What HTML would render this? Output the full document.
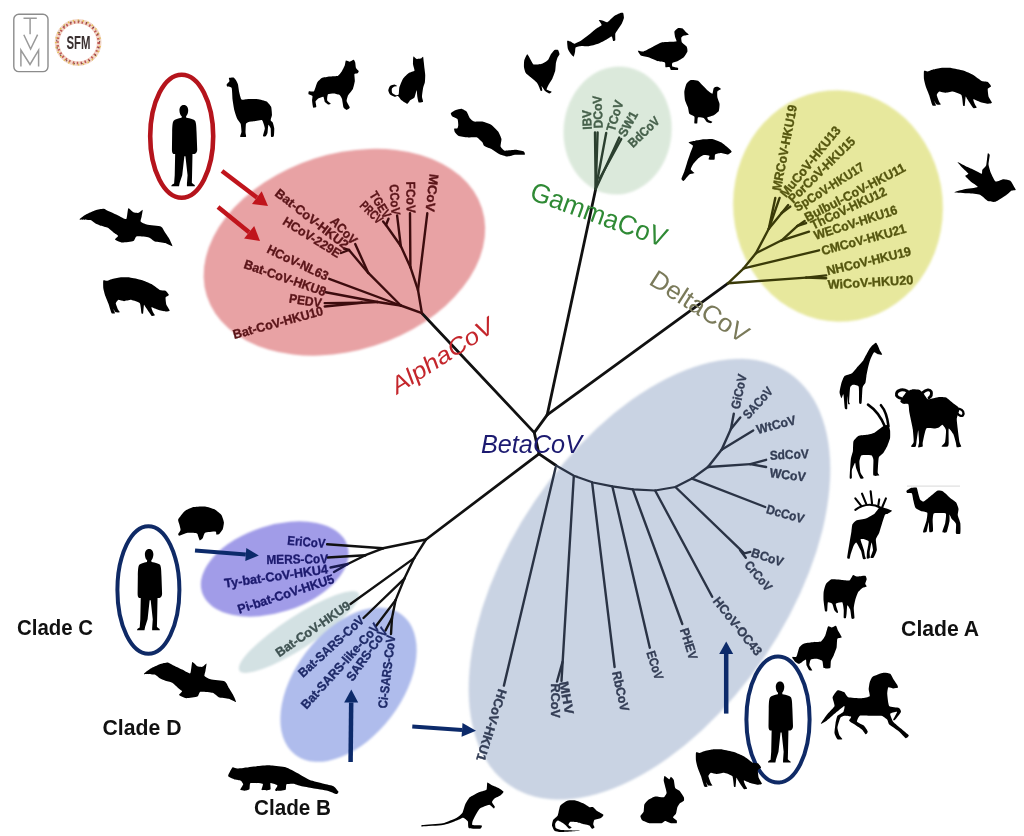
<!DOCTYPE html>
<html><head><meta charset="utf-8"><style>
html,body{margin:0;padding:0;background:#fff;width:1024px;height:836px;overflow:hidden}
svg{display:block}
text{font-family:"Liberation Sans",sans-serif}
</style></head><body>
<svg width="1024" height="836" viewBox="0 0 1024 836">
<defs><filter id="soft" x="-5%" y="-5%" width="110%" height="110%"><feGaussianBlur stdDeviation="1"/></filter></defs>
<rect width="1024" height="836" fill="#fff"/>
<g filter="url(#soft)">
<ellipse cx="344.4" cy="252.2" rx="144.4" ry="98.3" transform="rotate(-17.7 344.4 252.2)" fill="#e8a2a4"/>
<ellipse cx="617.6" cy="130.5" rx="54" ry="64" transform="rotate(5 617.6 130.5)" fill="#dbe9db"/>
<ellipse cx="838" cy="206" rx="104.8" ry="115.8" transform="rotate(-5 838 206)" fill="#e7e89d"/>
<ellipse cx="649.5" cy="579.2" rx="138.8" ry="249" transform="rotate(34.1 649.5 579.2)" fill="#c9d3e3"/>
<ellipse cx="274.7" cy="569" rx="76.4" ry="43.5" transform="rotate(-18 274.7 569)" fill="#a19ce8"/>
<ellipse cx="299" cy="632" rx="71" ry="16" transform="rotate(-33 299 632)" fill="#d3e1e3"/>
<ellipse cx="348.5" cy="684.7" rx="53.4" ry="88" transform="rotate(37.3 348.5 684.7)" fill="#afbcec"/>
</g>
<polyline points="421.9,313.2 534.3,432.6 539.0,453.8" fill="none" stroke="#111" stroke-width="2.8" stroke-linejoin="round" stroke-linecap="round"/>
<polyline points="534.3,432.6 547.2,414.9" fill="none" stroke="#111" stroke-width="2.8" stroke-linejoin="round" stroke-linecap="round"/>
<polyline points="547.2,414.9 595.7,189.0" fill="none" stroke="#111" stroke-width="2.8" stroke-linejoin="round" stroke-linecap="round"/>
<polyline points="547.2,414.9 727.9,283.3" fill="none" stroke="#111" stroke-width="2.8" stroke-linejoin="round" stroke-linecap="round"/>
<polyline points="539.0,453.8 426.0,539.5" fill="none" stroke="#111" stroke-width="2.8" stroke-linejoin="round" stroke-linecap="round"/>
<polyline points="421.9,313.2 418.0,290.0" fill="none" stroke="#3d0c0e" stroke-width="2.4" stroke-linejoin="round" stroke-linecap="round"/>
<polyline points="418.0,290.0 427.3,213.3" fill="none" stroke="#3d0c0e" stroke-width="2.4" stroke-linejoin="round" stroke-linecap="round"/>
<polyline points="418.0,290.0 410.4,267.2" fill="none" stroke="#3d0c0e" stroke-width="2.4" stroke-linejoin="round" stroke-linecap="round"/>
<polyline points="410.4,267.2 410.0,213.3" fill="none" stroke="#3d0c0e" stroke-width="2.4" stroke-linejoin="round" stroke-linecap="round"/>
<polyline points="410.4,267.2 400.8,246.0" fill="none" stroke="#3d0c0e" stroke-width="2.4" stroke-linejoin="round" stroke-linecap="round"/>
<polyline points="400.8,246.0 397.1,215.4" fill="none" stroke="#3d0c0e" stroke-width="2.4" stroke-linejoin="round" stroke-linecap="round"/>
<polyline points="400.8,246.0 386.0,225.0" fill="none" stroke="#3d0c0e" stroke-width="2.4" stroke-linejoin="round" stroke-linecap="round"/>
<polyline points="386.0,225.0 388.5,218.7" fill="none" stroke="#3d0c0e" stroke-width="2.4" stroke-linejoin="round" stroke-linecap="round"/>
<polyline points="386.0,225.0 383.1,221.4" fill="none" stroke="#3d0c0e" stroke-width="2.4" stroke-linejoin="round" stroke-linecap="round"/>
<polyline points="421.9,313.2 400.8,305.5" fill="none" stroke="#3d0c0e" stroke-width="2.4" stroke-linejoin="round" stroke-linecap="round"/>
<polyline points="400.8,305.5 368.3,272.9" fill="none" stroke="#3d0c0e" stroke-width="2.4" stroke-linejoin="round" stroke-linecap="round"/>
<polyline points="368.3,272.9 355.2,244.0" fill="none" stroke="#3d0c0e" stroke-width="2.4" stroke-linejoin="round" stroke-linecap="round"/>
<polyline points="368.3,272.9 349.0,250.0" fill="none" stroke="#3d0c0e" stroke-width="2.4" stroke-linejoin="round" stroke-linecap="round"/>
<polyline points="349.0,250.0 344.0,248.5" fill="none" stroke="#3d0c0e" stroke-width="2.4" stroke-linejoin="round" stroke-linecap="round"/>
<polyline points="349.0,250.0 341.0,253.0" fill="none" stroke="#3d0c0e" stroke-width="2.4" stroke-linejoin="round" stroke-linecap="round"/>
<polyline points="400.8,305.5 329.2,278.8" fill="none" stroke="#3d0c0e" stroke-width="2.4" stroke-linejoin="round" stroke-linecap="round"/>
<polyline points="400.8,305.5 377.4,302.0" fill="none" stroke="#3d0c0e" stroke-width="2.4" stroke-linejoin="round" stroke-linecap="round"/>
<polyline points="377.4,302.0 325.8,292.3" fill="none" stroke="#3d0c0e" stroke-width="2.4" stroke-linejoin="round" stroke-linecap="round"/>
<polyline points="377.4,302.0 361.7,302.7" fill="none" stroke="#3d0c0e" stroke-width="2.4" stroke-linejoin="round" stroke-linecap="round"/>
<polyline points="361.7,302.7 324.7,303.1" fill="none" stroke="#3d0c0e" stroke-width="2.4" stroke-linejoin="round" stroke-linecap="round"/>
<polyline points="361.7,302.7 324.7,306.5" fill="none" stroke="#3d0c0e" stroke-width="2.4" stroke-linejoin="round" stroke-linecap="round"/>
<polyline points="595.7,189.0 595.0,132.4" fill="none" stroke="#2b3f2f" stroke-width="2.4" stroke-linejoin="round" stroke-linecap="round"/>
<polyline points="595.7,189.0 597.6,132.4" fill="none" stroke="#2b3f2f" stroke-width="2.4" stroke-linejoin="round" stroke-linecap="round"/>
<polyline points="595.7,189.0 606.2,133.0" fill="none" stroke="#2b3f2f" stroke-width="2.4" stroke-linejoin="round" stroke-linecap="round"/>
<polyline points="595.7,189.0 619.3,137.6" fill="none" stroke="#2b3f2f" stroke-width="2.4" stroke-linejoin="round" stroke-linecap="round"/>
<polyline points="600.0,178.0 621.3,139.0" fill="none" stroke="#2b3f2f" stroke-width="2.4" stroke-linejoin="round" stroke-linecap="round"/>
<polyline points="727.9,283.3 806.1,277.6" fill="none" stroke="#3a3a08" stroke-width="2.4" stroke-linejoin="round" stroke-linecap="round"/>
<polyline points="806.1,277.6 826.2,275.4" fill="none" stroke="#3a3a08" stroke-width="2.4" stroke-linejoin="round" stroke-linecap="round"/>
<polyline points="806.1,277.6 826.2,278.3" fill="none" stroke="#3a3a08" stroke-width="2.4" stroke-linejoin="round" stroke-linecap="round"/>
<polyline points="727.9,283.3 743.7,268.3" fill="none" stroke="#3a3a08" stroke-width="2.4" stroke-linejoin="round" stroke-linecap="round"/>
<polyline points="743.7,268.3 819.0,250.3" fill="none" stroke="#3a3a08" stroke-width="2.4" stroke-linejoin="round" stroke-linecap="round"/>
<polyline points="743.7,268.3 755.9,253.2" fill="none" stroke="#3a3a08" stroke-width="2.4" stroke-linejoin="round" stroke-linecap="round"/>
<polyline points="755.9,253.2 781.7,240.3" fill="none" stroke="#3a3a08" stroke-width="2.4" stroke-linejoin="round" stroke-linecap="round"/>
<polyline points="781.7,240.3 809.0,231.7" fill="none" stroke="#3a3a08" stroke-width="2.4" stroke-linejoin="round" stroke-linecap="round"/>
<polyline points="781.7,240.3 797.5,225.9" fill="none" stroke="#3a3a08" stroke-width="2.4" stroke-linejoin="round" stroke-linecap="round"/>
<polyline points="797.5,225.9 804.7,220.9" fill="none" stroke="#3a3a08" stroke-width="2.4" stroke-linejoin="round" stroke-linecap="round"/>
<polyline points="797.5,225.9 806.1,223.1" fill="none" stroke="#3a3a08" stroke-width="2.4" stroke-linejoin="round" stroke-linecap="round"/>
<polyline points="755.9,253.2 768.8,228.8" fill="none" stroke="#3a3a08" stroke-width="2.4" stroke-linejoin="round" stroke-linecap="round"/>
<polyline points="768.8,228.8 775.3,197.9" fill="none" stroke="#3a3a08" stroke-width="2.4" stroke-linejoin="round" stroke-linecap="round"/>
<polyline points="768.8,228.8 779.6,197.9" fill="none" stroke="#3a3a08" stroke-width="2.4" stroke-linejoin="round" stroke-linecap="round"/>
<polyline points="768.8,228.8 781.7,213.0" fill="none" stroke="#3a3a08" stroke-width="2.4" stroke-linejoin="round" stroke-linecap="round"/>
<polyline points="781.7,213.0 788.2,205.1" fill="none" stroke="#3a3a08" stroke-width="2.4" stroke-linejoin="round" stroke-linecap="round"/>
<polyline points="781.7,213.0 790.3,206.6" fill="none" stroke="#3a3a08" stroke-width="2.4" stroke-linejoin="round" stroke-linecap="round"/>
<polyline points="539.0,453.8 556.1,465.5" fill="none" stroke="#111" stroke-width="2.8" stroke-linejoin="round" stroke-linecap="round"/>
<polyline points="556.1,465.5 573.9,475.7 593.0,482.5 612.4,486.4 632.8,489.3 655.1,490.5 675.4,487.0 692.0,478.6" fill="none" stroke="#2a3345" stroke-width="2.2" stroke-linejoin="round" stroke-linecap="round"/>
<polyline points="555.5,468.0 503.9,685.6" fill="none" stroke="#2a3345" stroke-width="2.4" stroke-linejoin="round" stroke-linecap="round"/>
<polyline points="573.8,476.3 561.5,681.0" fill="none" stroke="#2a3345" stroke-width="2.4" stroke-linejoin="round" stroke-linecap="round"/>
<polyline points="562.5,662.0 557.0,681.5" fill="none" stroke="#2a3345" stroke-width="2.4" stroke-linejoin="round" stroke-linecap="round"/>
<polyline points="592.1,482.4 614.6,667.0" fill="none" stroke="#2a3345" stroke-width="2.4" stroke-linejoin="round" stroke-linecap="round"/>
<polyline points="612.4,486.4 649.8,647.7" fill="none" stroke="#2a3345" stroke-width="2.4" stroke-linejoin="round" stroke-linecap="round"/>
<polyline points="632.8,489.3 682.3,624.0" fill="none" stroke="#2a3345" stroke-width="2.4" stroke-linejoin="round" stroke-linecap="round"/>
<polyline points="655.1,490.5 712.2,596.7" fill="none" stroke="#2a3345" stroke-width="2.4" stroke-linejoin="round" stroke-linecap="round"/>
<polyline points="675.4,487.0 744.3,553.3" fill="none" stroke="#2a3345" stroke-width="2.4" stroke-linejoin="round" stroke-linecap="round"/>
<polyline points="744.3,553.3 750.3,551.9" fill="none" stroke="#2a3345" stroke-width="2.4" stroke-linejoin="round" stroke-linecap="round"/>
<polyline points="740.0,550.0 745.8,557.8" fill="none" stroke="#2a3345" stroke-width="2.4" stroke-linejoin="round" stroke-linecap="round"/>
<polyline points="692.0,478.6 765.2,507.0" fill="none" stroke="#2a3345" stroke-width="2.4" stroke-linejoin="round" stroke-linecap="round"/>
<polyline points="692.0,478.6 708.0,467.0" fill="none" stroke="#2a3345" stroke-width="2.4" stroke-linejoin="round" stroke-linecap="round"/>
<polyline points="708.0,467.0 750.3,464.1" fill="none" stroke="#2a3345" stroke-width="2.4" stroke-linejoin="round" stroke-linecap="round"/>
<polyline points="750.3,464.1 766.1,459.8" fill="none" stroke="#2a3345" stroke-width="2.4" stroke-linejoin="round" stroke-linecap="round"/>
<polyline points="750.3,464.1 766.1,467.0" fill="none" stroke="#2a3345" stroke-width="2.4" stroke-linejoin="round" stroke-linecap="round"/>
<polyline points="708.0,467.0 721.6,449.7" fill="none" stroke="#2a3345" stroke-width="2.4" stroke-linejoin="round" stroke-linecap="round"/>
<polyline points="721.6,449.7 753.2,430.4" fill="none" stroke="#2a3345" stroke-width="2.4" stroke-linejoin="round" stroke-linecap="round"/>
<polyline points="721.6,449.7 730.9,428.9" fill="none" stroke="#2a3345" stroke-width="2.4" stroke-linejoin="round" stroke-linecap="round"/>
<polyline points="730.9,428.9 733.8,413.8" fill="none" stroke="#2a3345" stroke-width="2.4" stroke-linejoin="round" stroke-linecap="round"/>
<polyline points="730.9,428.9 740.3,417.4" fill="none" stroke="#2a3345" stroke-width="2.4" stroke-linejoin="round" stroke-linecap="round"/>
<polyline points="426.0,539.5 383.0,548.3" fill="none" stroke="#111" stroke-width="2.4" stroke-linejoin="round" stroke-linecap="round"/>
<polyline points="383.0,548.3 327.1,544.3" fill="none" stroke="#111" stroke-width="2.4" stroke-linejoin="round" stroke-linecap="round"/>
<polyline points="383.0,548.3 365.4,555.2" fill="none" stroke="#111" stroke-width="2.4" stroke-linejoin="round" stroke-linecap="round"/>
<polyline points="365.4,555.2 327.5,557.5" fill="none" stroke="#111" stroke-width="2.4" stroke-linejoin="round" stroke-linecap="round"/>
<polyline points="365.4,555.2 347.8,564.0" fill="none" stroke="#111" stroke-width="2.4" stroke-linejoin="round" stroke-linecap="round"/>
<polyline points="347.8,564.0 330.5,567.5" fill="none" stroke="#1a1a50" stroke-width="2.4" stroke-linejoin="round" stroke-linecap="round"/>
<polyline points="347.8,564.0 334.0,572.0" fill="none" stroke="#1a1a50" stroke-width="2.4" stroke-linejoin="round" stroke-linecap="round"/>
<polyline points="426.0,539.5 414.2,558.1" fill="none" stroke="#111" stroke-width="2.4" stroke-linejoin="round" stroke-linecap="round"/>
<polyline points="414.2,558.1 350.5,604.0" fill="none" stroke="#111" stroke-width="2.4" stroke-linejoin="round" stroke-linecap="round"/>
<polyline points="414.2,558.1 404.4,578.6" fill="none" stroke="#111" stroke-width="2.4" stroke-linejoin="round" stroke-linecap="round"/>
<polyline points="404.4,578.6 363.5,618.0" fill="none" stroke="#111" stroke-width="2.4" stroke-linejoin="round" stroke-linecap="round"/>
<polyline points="404.4,578.6 395.6,600.1" fill="none" stroke="#111" stroke-width="2.4" stroke-linejoin="round" stroke-linecap="round"/>
<polyline points="395.6,600.1 376.0,626.0" fill="none" stroke="#111" stroke-width="2.4" stroke-linejoin="round" stroke-linecap="round"/>
<polyline points="395.6,600.1 392.0,618.0" fill="none" stroke="#111" stroke-width="2.4" stroke-linejoin="round" stroke-linecap="round"/>
<polyline points="392.0,618.0 385.5,630.5" fill="none" stroke="#111" stroke-width="2.4" stroke-linejoin="round" stroke-linecap="round"/>
<polyline points="392.0,618.0 391.0,634.0" fill="none" stroke="#111" stroke-width="2.4" stroke-linejoin="round" stroke-linecap="round"/>
<text x="312.0" y="218.8" transform="rotate(38.0 312.0 218.8)" text-anchor="middle" dominant-baseline="central" font-size="12.8" font-weight="bold" font-style="normal" fill="#5a1418" stroke="#5a1418" stroke-width="0.35" textLength="89.1" lengthAdjust="spacingAndGlyphs">Bat-CoV-HKU2</text>
<text x="312.0" y="237.1" transform="rotate(31.7 312.0 237.1)" text-anchor="middle" dominant-baseline="central" font-size="12.8" font-weight="bold" font-style="normal" fill="#5a1418" stroke="#5a1418" stroke-width="0.35" textLength="65.8" lengthAdjust="spacingAndGlyphs">HCoV-229E</text>
<text x="344.0" y="230.5" transform="rotate(46.3 344.0 230.5)" text-anchor="middle" dominant-baseline="central" font-size="12.8" font-weight="bold" font-style="normal" fill="#5a1418" stroke="#5a1418" stroke-width="0.35" textLength="32.4" lengthAdjust="spacingAndGlyphs">ACoV</text>
<text x="297.8" y="262.5" transform="rotate(25.4 297.8 262.5)" text-anchor="middle" dominant-baseline="central" font-size="12.8" font-weight="bold" font-style="normal" fill="#5a1418" stroke="#5a1418" stroke-width="0.35" textLength="66.3" lengthAdjust="spacingAndGlyphs">HCoV-NL63</text>
<text x="285.1" y="277.8" transform="rotate(19.3 285.1 277.8)" text-anchor="middle" dominant-baseline="central" font-size="12.8" font-weight="bold" font-style="normal" fill="#5a1418" stroke="#5a1418" stroke-width="0.35" textLength="86.2" lengthAdjust="spacingAndGlyphs">Bat-CoV-HKU8</text>
<text x="305.4" y="300.6" transform="rotate(8.9 305.4 300.6)" text-anchor="middle" dominant-baseline="central" font-size="12.8" font-weight="bold" font-style="normal" fill="#5a1418" stroke="#5a1418" stroke-width="0.35" textLength="32.9" lengthAdjust="spacingAndGlyphs">PEDV</text>
<text x="277.9" y="322.5" transform="rotate(-15.2 277.9 322.5)" text-anchor="middle" dominant-baseline="central" font-size="12.8" font-weight="bold" font-style="normal" fill="#5a1418" stroke="#5a1418" stroke-width="0.35" textLength="92.8" lengthAdjust="spacingAndGlyphs">Bat-CoV-HKU10</text>
<text x="432.1" y="192.8" transform="rotate(96.5 432.1 192.8)" text-anchor="middle" dominant-baseline="central" font-size="12.8" font-weight="bold" font-style="normal" fill="#5a1418" stroke="#5a1418" stroke-width="0.35" textLength="37.9" lengthAdjust="spacingAndGlyphs">MCoV</text>
<text x="410.9" y="197.2" transform="rotate(89.1 410.9 197.2)" text-anchor="middle" dominant-baseline="central" font-size="12.8" font-weight="bold" font-style="normal" fill="#5a1418" stroke="#5a1418" stroke-width="0.35" textLength="31.3" lengthAdjust="spacingAndGlyphs">FCoV</text>
<text x="395.0" y="199.6" transform="rotate(85.9 395.0 199.6)" text-anchor="middle" dominant-baseline="central" font-size="12.8" font-weight="bold" font-style="normal" fill="#5a1418" stroke="#5a1418" stroke-width="0.35" textLength="30.8" lengthAdjust="spacingAndGlyphs">CCoV</text>
<text x="380.4" y="204.7" transform="rotate(58.7 380.4 204.7)" text-anchor="middle" dominant-baseline="central" font-size="12.8" font-weight="bold" font-style="normal" fill="#5a1418" stroke="#5a1418" stroke-width="0.35" textLength="29.0" lengthAdjust="spacingAndGlyphs">TGEV</text>
<text x="371.6" y="212.2" transform="rotate(44.2 371.6 212.2)" text-anchor="middle" dominant-baseline="central" font-size="12.8" font-weight="bold" font-style="normal" fill="#5a1418" stroke="#5a1418" stroke-width="0.35" textLength="26.2" lengthAdjust="spacingAndGlyphs">PRCV</text>
<text x="586.8" y="119.8" transform="rotate(-92.0 586.8 119.8)" text-anchor="middle" dominant-baseline="central" font-size="12.8" font-weight="bold" font-style="normal" fill="#46604b" stroke="#46604b" stroke-width="0.35" textLength="19.7" lengthAdjust="spacingAndGlyphs">IBV</text>
<text x="597.6" y="112.0" transform="rotate(-92.3 597.6 112.0)" text-anchor="middle" dominant-baseline="central" font-size="12.8" font-weight="bold" font-style="normal" fill="#46604b" stroke="#46604b" stroke-width="0.35" textLength="32.9" lengthAdjust="spacingAndGlyphs">DCoV</text>
<text x="614.7" y="115.9" transform="rotate(-73.1 614.7 115.9)" text-anchor="middle" dominant-baseline="central" font-size="12.8" font-weight="bold" font-style="normal" fill="#46604b" stroke="#46604b" stroke-width="0.35" textLength="31.6" lengthAdjust="spacingAndGlyphs">TCoV</text>
<text x="627.9" y="123.8" transform="rotate(-60.9 627.9 123.8)" text-anchor="middle" dominant-baseline="central" font-size="12.8" font-weight="bold" font-style="normal" fill="#46604b" stroke="#46604b" stroke-width="0.35" textLength="27.1" lengthAdjust="spacingAndGlyphs">SW1</text>
<text x="643.7" y="131.8" transform="rotate(-43.6 643.7 131.8)" text-anchor="middle" dominant-baseline="central" font-size="12.8" font-weight="bold" font-style="normal" fill="#46604b" stroke="#46604b" stroke-width="0.35" textLength="38.1" lengthAdjust="spacingAndGlyphs">BdCoV</text>
<text x="784.5" y="147.8" transform="rotate(-79.1 784.5 147.8)" text-anchor="middle" dominant-baseline="central" font-size="12.8" font-weight="bold" font-style="normal" fill="#55560f" stroke="#55560f" stroke-width="0.35" textLength="87.0" lengthAdjust="spacingAndGlyphs">MRCoV-HKU19</text>
<text x="810.2" y="161.6" transform="rotate(-50.8 810.2 161.6)" text-anchor="middle" dominant-baseline="central" font-size="12.8" font-weight="bold" font-style="normal" fill="#55560f" stroke="#55560f" stroke-width="0.35" textLength="87.5" lengthAdjust="spacingAndGlyphs">MuCoV-HKU13</text>
<text x="821.5" y="169.8" transform="rotate(-44.4 821.5 169.8)" text-anchor="middle" dominant-baseline="central" font-size="12.8" font-weight="bold" font-style="normal" fill="#55560f" stroke="#55560f" stroke-width="0.35" textLength="88.0" lengthAdjust="spacingAndGlyphs">PorCoV-HKU15</text>
<text x="829.1" y="186.8" transform="rotate(-32.2 829.1 186.8)" text-anchor="middle" dominant-baseline="central" font-size="12.8" font-weight="bold" font-style="normal" fill="#55560f" stroke="#55560f" stroke-width="0.35" textLength="80.1" lengthAdjust="spacingAndGlyphs">SpCoV-HKU17</text>
<text x="854.8" y="192.3" transform="rotate(-27.4 854.8 192.3)" text-anchor="middle" dominant-baseline="central" font-size="12.8" font-weight="bold" font-style="normal" fill="#55560f" stroke="#55560f" stroke-width="0.35" textLength="111.8" lengthAdjust="spacingAndGlyphs">Bulbul-CoV-HKU11</text>
<text x="848.5" y="208.1" transform="rotate(-25.3 848.5 208.1)" text-anchor="middle" dominant-baseline="central" font-size="12.8" font-weight="bold" font-style="normal" fill="#55560f" stroke="#55560f" stroke-width="0.35" textLength="82.0" lengthAdjust="spacingAndGlyphs">ThCoV-HKU12</text>
<text x="855.5" y="222.5" transform="rotate(-17.7 855.5 222.5)" text-anchor="middle" dominant-baseline="central" font-size="12.8" font-weight="bold" font-style="normal" fill="#55560f" stroke="#55560f" stroke-width="0.35" textLength="87.0" lengthAdjust="spacingAndGlyphs">WECoV-HKU16</text>
<text x="863.6" y="239.5" transform="rotate(-15.0 863.6 239.5)" text-anchor="middle" dominant-baseline="central" font-size="12.8" font-weight="bold" font-style="normal" fill="#55560f" stroke="#55560f" stroke-width="0.35" textLength="87.2" lengthAdjust="spacingAndGlyphs">CMCoV-HKU21</text>
<text x="868.7" y="260.9" transform="rotate(-13.4 868.7 260.9)" text-anchor="middle" dominant-baseline="central" font-size="12.8" font-weight="bold" font-style="normal" fill="#55560f" stroke="#55560f" stroke-width="0.35" textLength="86.5" lengthAdjust="spacingAndGlyphs">NHCoV-HKU19</text>
<text x="870.5" y="282.1" transform="rotate(-3.4 870.5 282.1)" text-anchor="middle" dominant-baseline="central" font-size="12.8" font-weight="bold" font-style="normal" fill="#55560f" stroke="#55560f" stroke-width="0.35" textLength="85.6" lengthAdjust="spacingAndGlyphs">WiCoV-HKU20</text>
<text x="738.8" y="391.6" transform="rotate(-78.2 738.8 391.6)" text-anchor="middle" dominant-baseline="central" font-size="12.8" font-weight="bold" font-style="normal" fill="#333d55" stroke="#333d55" stroke-width="0.35" textLength="35.1" lengthAdjust="spacingAndGlyphs">GiCoV</text>
<text x="757.8" y="402.7" transform="rotate(-48.1 757.8 402.7)" text-anchor="middle" dominant-baseline="central" font-size="12.8" font-weight="bold" font-style="normal" fill="#333d55" stroke="#333d55" stroke-width="0.35" textLength="37.6" lengthAdjust="spacingAndGlyphs">SACoV</text>
<text x="776.1" y="424.6" transform="rotate(-14.5 776.1 424.6)" text-anchor="middle" dominant-baseline="central" font-size="12.8" font-weight="bold" font-style="normal" fill="#333d55" stroke="#333d55" stroke-width="0.35" textLength="40.0" lengthAdjust="spacingAndGlyphs">WtCoV</text>
<text x="789.2" y="454.4" transform="rotate(-2.2 789.2 454.4)" text-anchor="middle" dominant-baseline="central" font-size="12.8" font-weight="bold" font-style="normal" fill="#333d55" stroke="#333d55" stroke-width="0.35" textLength="38.9" lengthAdjust="spacingAndGlyphs">SdCoV</text>
<text x="787.7" y="474.9" transform="rotate(7.1 787.7 474.9)" text-anchor="middle" dominant-baseline="central" font-size="12.8" font-weight="bold" font-style="normal" fill="#333d55" stroke="#333d55" stroke-width="0.35" textLength="36.2" lengthAdjust="spacingAndGlyphs">WCoV</text>
<text x="785.4" y="513.8" transform="rotate(15.7 785.4 513.8)" text-anchor="middle" dominant-baseline="central" font-size="12.8" font-weight="bold" font-style="normal" fill="#333d55" stroke="#333d55" stroke-width="0.35" textLength="38.8" lengthAdjust="spacingAndGlyphs">DcCoV</text>
<text x="767.5" y="557.1" transform="rotate(18.3 767.5 557.1)" text-anchor="middle" dominant-baseline="central" font-size="12.8" font-weight="bold" font-style="normal" fill="#333d55" stroke="#333d55" stroke-width="0.35" textLength="33.1" lengthAdjust="spacingAndGlyphs">BCoV</text>
<text x="758.5" y="575.8" transform="rotate(50.2 758.5 575.8)" text-anchor="middle" dominant-baseline="central" font-size="12.8" font-weight="bold" font-style="normal" fill="#333d55" stroke="#333d55" stroke-width="0.35" textLength="35.0" lengthAdjust="spacingAndGlyphs">CrCoV</text>
<text x="737.7" y="626.1" transform="rotate(51.6 737.7 626.1)" text-anchor="middle" dominant-baseline="central" font-size="12.8" font-weight="bold" font-style="normal" fill="#333d55" stroke="#333d55" stroke-width="0.35" textLength="70.6" lengthAdjust="spacingAndGlyphs">HCoV-OC43</text>
<text x="688.9" y="643.7" transform="rotate(72.5 688.9 643.7)" text-anchor="middle" dominant-baseline="central" font-size="12.8" font-weight="bold" font-style="normal" fill="#333d55" stroke="#333d55" stroke-width="0.35" textLength="32.3" lengthAdjust="spacingAndGlyphs">PHEV</text>
<text x="655.0" y="665.2" transform="rotate(72.6 655.0 665.2)" text-anchor="middle" dominant-baseline="central" font-size="12.8" font-weight="bold" font-style="normal" fill="#333d55" stroke="#333d55" stroke-width="0.35" textLength="29.4" lengthAdjust="spacingAndGlyphs">ECoV</text>
<text x="620.8" y="691.2" transform="rotate(77.5 620.8 691.2)" text-anchor="middle" dominant-baseline="central" font-size="12.8" font-weight="bold" font-style="normal" fill="#333d55" stroke="#333d55" stroke-width="0.35" textLength="40.6" lengthAdjust="spacingAndGlyphs">RbCoV</text>
<text x="566.8" y="697.8" transform="rotate(79.4 566.8 697.8)" text-anchor="middle" dominant-baseline="central" font-size="12.8" font-weight="bold" font-style="normal" fill="#333d55" stroke="#333d55" stroke-width="0.35" textLength="33.1" lengthAdjust="spacingAndGlyphs">MHV</text>
<text x="555.5" y="700.8" transform="rotate(90.0 555.5 700.8)" text-anchor="middle" dominant-baseline="central" font-size="12.8" font-weight="bold" font-style="normal" fill="#333d55" stroke="#333d55" stroke-width="0.35" textLength="34.4" lengthAdjust="spacingAndGlyphs">RCoV</text>
<text x="491.5" y="725.2" transform="rotate(107.5 491.5 725.2)" text-anchor="middle" dominant-baseline="central" font-size="12.8" font-weight="bold" font-style="normal" fill="#333d55" stroke="#333d55" stroke-width="0.35" textLength="74.5" lengthAdjust="spacingAndGlyphs">HCoV-HKU1</text>
<text x="306.4" y="541.8" transform="rotate(4.8 306.4 541.8)" text-anchor="middle" dominant-baseline="central" font-size="12.8" font-weight="bold" font-style="normal" fill="#1c1a6e" stroke="#1c1a6e" stroke-width="0.35" textLength="38.1" lengthAdjust="spacingAndGlyphs">EriCoV</text>
<text x="297.2" y="559.0" transform="rotate(-0.7 297.2 559.0)" text-anchor="middle" dominant-baseline="central" font-size="12.8" font-weight="bold" font-style="normal" fill="#1c1a6e" stroke="#1c1a6e" stroke-width="0.35" textLength="61.6" lengthAdjust="spacingAndGlyphs">MERS-CoV</text>
<text x="276.2" y="576.1" transform="rotate(-8.0 276.2 576.1)" text-anchor="middle" dominant-baseline="central" font-size="12.8" font-weight="bold" font-style="normal" fill="#1c1a6e" stroke="#1c1a6e" stroke-width="0.35" textLength="104.5" lengthAdjust="spacingAndGlyphs">Ty-bat-CoV-HKU4</text>
<text x="285.8" y="593.8" transform="rotate(-18.0 285.8 593.8)" text-anchor="middle" dominant-baseline="central" font-size="12.8" font-weight="bold" font-style="normal" fill="#1c1a6e" stroke="#1c1a6e" stroke-width="0.35" textLength="100.7" lengthAdjust="spacingAndGlyphs">Pi-bat-CoV-HKU5</text>
<text x="312.9" y="628.9" transform="rotate(-34.6 312.9 628.9)" text-anchor="middle" dominant-baseline="central" font-size="12.8" font-weight="bold" font-style="normal" fill="#3f5252" stroke="#3f5252" stroke-width="0.35" textLength="87.8" lengthAdjust="spacingAndGlyphs">Bat-CoV-HKU9</text>
<text x="331.1" y="646.4" transform="rotate(-42.4 331.1 646.4)" text-anchor="middle" dominant-baseline="central" font-size="12.8" font-weight="bold" font-style="normal" fill="#1e2a68" stroke="#1e2a68" stroke-width="0.35" textLength="84.2" lengthAdjust="spacingAndGlyphs">Bat-SARS-CoV</text>
<text x="340.1" y="665.9" transform="rotate(-47.9 340.1 665.9)" text-anchor="middle" dominant-baseline="central" font-size="12.8" font-weight="bold" font-style="normal" fill="#1e2a68" stroke="#1e2a68" stroke-width="0.35" textLength="110.2" lengthAdjust="spacingAndGlyphs">Bat-SARS-like-CoV</text>
<text x="366.9" y="654.1" transform="rotate(-54.7 366.9 654.1)" text-anchor="middle" dominant-baseline="central" font-size="12.8" font-weight="bold" font-style="normal" fill="#1e2a68" stroke="#1e2a68" stroke-width="0.35" textLength="61.9" lengthAdjust="spacingAndGlyphs">SARS-CoV</text>
<text x="386.7" y="671.7" transform="rotate(-83.3 386.7 671.7)" text-anchor="middle" dominant-baseline="central" font-size="12.8" font-weight="bold" font-style="normal" fill="#1e2a68" stroke="#1e2a68" stroke-width="0.35" textLength="73.6" lengthAdjust="spacingAndGlyphs">Ci-SARS-CoV</text>
<text x="397.2" y="394.5" transform="rotate(-33.0 397.2 394.5)" font-size="23.5" font-style="italic" font-weight="normal" fill="#c4262c" textLength="118" lengthAdjust="spacingAndGlyphs">AlphaCoV</text>
<text x="528.5" y="199.0" transform="rotate(19.8 528.5 199.0)" font-size="27" font-style="normal" font-weight="normal" fill="#2f8a35" textLength="143" lengthAdjust="spacingAndGlyphs">GammaCoV</text>
<text x="647.8" y="283.6" transform="rotate(32.5 647.8 283.6)" font-size="25" font-style="normal" font-weight="normal" fill="#7a7a5a" textLength="112" lengthAdjust="spacingAndGlyphs">DeltaCoV</text>
<text x="481.0" y="452.5" transform="rotate(0.0 481.0 452.5)" font-size="26" font-style="italic" font-weight="normal" fill="#1c1a70" textLength="101" lengthAdjust="spacingAndGlyphs">BetaCoV</text>
<text x="17.0" y="634.6" transform="rotate(0.0 17.0 634.6)" font-size="22" font-style="normal" font-weight="bold" fill="#111" textLength="76" lengthAdjust="spacingAndGlyphs">Clade C</text>
<text x="102.5" y="734.5" transform="rotate(0.0 102.5 734.5)" font-size="22" font-style="normal" font-weight="bold" fill="#111" textLength="79" lengthAdjust="spacingAndGlyphs">Clade D</text>
<text x="254.0" y="814.5" transform="rotate(0.0 254.0 814.5)" font-size="22" font-style="normal" font-weight="bold" fill="#111" textLength="77" lengthAdjust="spacingAndGlyphs">Clade B</text>
<text x="901.1" y="636.3" transform="rotate(0.0 901.1 636.3)" font-size="22" font-style="normal" font-weight="bold" fill="#111" textLength="78" lengthAdjust="spacingAndGlyphs">Clade A</text>
<ellipse cx="181.7" cy="136.2" rx="31.5" ry="61.5" fill="none" stroke="#b5141c" stroke-width="4.6"/>
<ellipse cx="148.4" cy="590" rx="31" ry="63.7" fill="none" stroke="#0f2a66" stroke-width="4"/>
<ellipse cx="778" cy="719.5" rx="31.6" ry="63" fill="none" stroke="#0f2a66" stroke-width="4"/>
<line x1="222" y1="171" x2="256.9" y2="197.5" stroke="#c0151c" stroke-width="4.5"/>
<polygon points="268,206 252.0,203.9 261.7,191.2" fill="#c0151c"/>
<line x1="218" y1="207" x2="249.1" y2="232.2" stroke="#c0151c" stroke-width="4.5"/>
<polygon points="260,241 244.1,238.4 254.2,226.0" fill="#c0151c"/>
<line x1="195" y1="550.5" x2="245.8" y2="554.5" stroke="#0c2a6a" stroke-width="4"/>
<polygon points="258.8,555.5 245.3,561.0 246.3,548.0" fill="#0c2a6a"/>
<line x1="350.6" y1="762" x2="351.2" y2="702.5" stroke="#0c2a6a" stroke-width="4.5"/>
<polygon points="351.3,689.5 358.2,702.6 344.2,702.4" fill="#0c2a6a"/>
<line x1="412.3" y1="726.5" x2="462.0" y2="729.9" stroke="#0c2a6a" stroke-width="4"/>
<polygon points="476,730.8 461.6,736.8 462.5,722.9" fill="#0c2a6a"/>
<line x1="726.2" y1="713.6" x2="726.2" y2="654.0" stroke="#0c2a6a" stroke-width="4.5"/>
<polygon points="726.2,641.5 733.2,654.0 719.2,654.0" fill="#0c2a6a"/>
<g fill="#000" stroke="none">
<path transform="translate(75,200) scale(0.10254)" d="M45,190 C42,185 97,148 110,140 C123,132 186,105 200,100 C214,95 269,84 280,85 C291,86 318,105 330,110 C342,115 406,144 420,150 C434,156 492,191 500,185 C508,179 514,85 520,80 C526,75 562,116 570,120 C578,124 612,127 620,125 C628,123 658,92 660,95 C662,98 652,150 650,160 C648,170 636,203 640,210 C644,217 683,236 700,240 C717,244 825,253 840,260 C855,267 873,310 880,320 C887,330 914,369 920,380 C926,391 953,447 950,450 C947,453 894,424 880,420 C866,416 793,410 780,405 C767,400 735,369 720,365 C705,361 612,352 600,355 C588,358 582,395 570,400 C558,405 475,416 460,415 C445,414 393,390 390,385 C387,380 421,355 420,350 C419,345 388,327 380,320 C372,313 331,276 320,270 C309,264 260,253 250,250 C240,247 208,235 200,230 C192,225 163,198 150,195 C137,192 48,195 45,190Z"/>
<path transform="translate(95,270) scale(0.08301)" d="M100,125 C103,118 132,131 140,130 C148,129 187,113 200,110 C213,107 282,92 300,90 C318,88 398,88 420,90 C442,92 538,113 560,120 C582,127 662,160 680,170 C698,180 766,233 780,240 C794,247 841,245 850,250 C859,255 890,293 890,300 C890,307 852,320 850,330 C848,340 856,407 860,420 C864,433 901,483 900,490 C899,497 862,501 850,500 C838,499 774,484 760,480 C746,476 685,448 680,450 C675,452 697,502 700,510 C703,518 722,542 720,545 C718,548 689,558 680,550 C671,542 618,461 610,450 C602,439 592,414 590,420 C588,426 582,512 580,520 C578,528 563,530 560,520 C557,510 550,413 540,400 C530,387 456,362 440,360 C424,358 363,375 350,375 C337,375 288,358 280,360 C272,362 250,390 250,400 C250,410 276,471 280,480 C284,489 302,508 300,510 C298,512 257,513 250,510 C243,507 221,469 220,470 C219,471 242,516 240,520 C238,524 207,530 200,520 C193,510 167,418 160,400 C153,382 125,315 120,300 C115,285 102,235 100,220 C98,205 97,132 100,125Z"/>
<path transform="translate(220,70) scale(0.08965)" d="M100,90 C104,87 144,83 150,85 C156,87 171,104 175,110 C179,116 197,148 200,160 C203,172 212,236 215,250 C218,264 233,324 240,330 C247,336 285,325 300,325 C315,325 402,323 420,325 C438,327 508,343 520,350 C532,357 565,398 570,410 C575,422 580,488 580,500 C580,512 564,552 565,560 C566,568 587,582 590,590 C593,598 604,638 605,650 C606,662 603,732 600,740 C597,748 573,752 570,745 C567,738 568,661 565,650 C562,639 543,606 540,610 C537,614 532,689 530,700 C528,711 514,737 510,740 C506,743 481,742 480,735 C479,728 501,665 500,650 C499,635 478,567 470,560 C462,553 412,568 400,570 C388,572 329,578 320,580 C311,582 293,590 290,600 C287,610 285,688 285,700 C285,712 295,741 290,745 C285,749 229,750 225,745 C221,740 240,702 240,690 C240,678 234,612 230,600 C226,588 196,552 190,540 C184,528 164,468 160,450 C156,432 142,351 140,330 C138,309 135,212 130,200 C125,188 85,188 80,185 C75,182 73,165 75,160 C77,155 103,131 105,125 C107,119 96,93 100,90Z"/>
<path transform="translate(300,50) scale(0.07778)" d="M590,135 C595,131 632,151 640,150 C648,149 684,124 690,125 C696,126 708,151 710,160 C712,169 716,221 720,230 C724,239 753,264 755,270 C757,276 745,297 740,300 C735,303 703,302 700,310 C697,318 707,384 705,400 C703,416 687,485 680,500 C673,515 627,567 620,580 C613,593 598,647 600,660 C602,673 640,731 640,740 C640,749 607,770 600,770 C593,770 565,752 560,740 C555,728 544,643 540,630 C536,617 518,586 510,580 C502,574 452,561 440,560 C428,559 368,562 360,570 C352,578 347,640 350,650 C353,660 394,686 395,690 C396,694 366,702 360,700 C354,698 325,678 320,670 C315,662 307,604 300,600 C293,596 248,615 240,620 C232,625 202,651 200,660 C198,669 212,723 210,730 C208,737 175,747 170,740 C165,733 156,662 155,650 C154,638 164,597 160,590 C156,583 114,575 110,570 C106,565 109,533 115,530 C121,527 171,539 180,530 C189,521 212,434 220,420 C228,406 267,367 280,360 C293,353 362,342 380,340 C398,338 477,336 490,330 C503,324 533,281 540,270 C547,259 571,211 575,200 C579,189 585,139 590,135Z"/>
<path transform="translate(380,50) scale(0.07180)" d="M465,90 C469,84 501,122 510,125 C519,128 562,122 570,120 C578,118 597,91 600,95 C603,99 608,156 610,170 C612,184 618,245 620,260 C622,275 630,334 630,350 C630,366 628,435 625,450 C622,465 603,513 600,530 C597,547 585,634 585,650 C585,666 604,713 600,720 C596,727 547,736 540,730 C533,724 522,664 520,650 C518,636 513,559 510,560 C507,561 488,648 480,660 C472,672 428,692 420,700 C412,708 390,750 380,750 C370,750 311,709 300,700 C289,691 258,644 250,640 C242,636 209,652 200,650 C191,648 147,628 140,620 C133,612 115,570 115,560 C115,550 133,507 140,500 C147,493 192,480 200,480 C208,480 240,498 240,500 C240,502 206,507 200,510 C194,513 168,532 165,540 C162,548 165,592 170,600 C175,608 212,628 220,630 C228,632 256,629 260,620 C264,611 265,538 270,520 C275,502 309,417 320,400 C331,383 387,329 400,320 C413,311 475,300 480,290 C485,280 461,217 460,200 C459,183 461,96 465,90Z"/>
<path transform="translate(445,100) scale(0.08301)" d="M70,160 C73,153 119,125 130,120 C141,115 189,103 200,105 C211,107 252,130 260,140 C268,150 292,210 300,220 C308,230 338,257 350,260 C362,263 432,257 450,260 C468,263 544,290 560,300 C576,310 630,366 640,380 C650,394 678,455 680,470 C682,485 667,548 670,560 C673,572 705,607 720,610 C735,613 831,599 850,600 C869,601 941,615 950,620 C959,625 968,657 960,660 C952,663 868,658 850,660 C832,662 767,681 750,680 C733,679 666,658 650,650 C634,642 575,598 560,590 C545,582 479,557 470,550 C461,543 458,518 450,510 C442,502 395,455 380,450 C365,445 288,452 270,450 C252,448 172,435 160,430 C148,425 124,397 120,390 C116,383 108,349 110,345 C112,341 146,344 150,340 C154,336 160,309 160,300 C160,291 156,238 150,230 C144,222 97,206 90,200 C83,194 67,167 70,160Z"/>
<path transform="translate(515,40) scale(0.07180)" d="M170,200 C177,198 202,248 210,260 C218,272 246,334 260,340 C274,346 363,335 380,330 C397,325 450,291 460,280 C470,269 492,212 500,200 C508,188 542,145 550,140 C558,135 594,135 600,140 C606,145 621,191 620,200 C619,209 594,240 590,250 C586,260 572,305 570,320 C568,335 564,412 560,430 C556,448 528,524 520,540 C512,556 477,608 470,620 C463,632 437,682 440,690 C443,698 507,715 510,720 C513,725 488,746 480,745 C472,744 429,719 420,710 C411,701 373,641 370,640 C367,639 381,694 380,700 C379,706 364,715 360,710 C356,705 335,650 330,640 C325,630 309,600 300,590 C291,580 232,531 220,520 C208,509 158,472 150,460 C142,448 127,395 125,380 C123,365 126,295 130,280 C134,265 163,202 170,200Z"/>
<path transform="translate(560,5) scale(0.07179)" d="M880,110 C884,116 892,168 890,180 C888,192 868,246 860,260 C852,274 808,338 800,350 C792,362 772,388 770,400 C768,412 772,482 770,490 C768,498 744,504 740,500 C736,496 728,442 720,440 C712,438 666,472 650,480 C634,488 551,532 530,540 C509,548 419,572 400,575 C381,578 315,569 300,570 C285,571 228,583 220,590 C212,597 212,639 210,650 C208,661 195,718 190,720 C185,722 157,689 150,680 C143,671 114,625 110,610 C106,595 97,508 100,500 C103,492 142,507 150,510 C158,513 188,542 200,540 C212,538 282,502 300,490 C318,478 404,412 420,400 C436,388 477,350 490,340 C503,330 576,291 580,280 C584,269 538,215 540,210 C542,205 590,218 600,220 C610,222 647,246 660,240 C673,234 745,161 760,150 C775,139 830,113 840,110 C850,107 876,104 880,110Z"/>
<path transform="translate(630,20) scale(0.06835)" d="M115,450 C118,445 183,464 200,460 C217,456 298,411 320,400 C342,389 437,337 460,330 C483,323 582,322 600,320 C618,318 675,316 680,310 C685,304 662,262 660,250 C658,238 647,181 650,170 C653,159 690,124 700,120 C710,116 760,120 770,125 C780,130 812,172 820,180 C828,188 863,211 860,215 C857,219 789,226 780,230 C771,234 752,252 750,260 C748,268 753,319 760,330 C767,341 823,379 830,390 C837,401 843,448 840,460 C837,472 802,528 790,540 C778,552 714,592 700,600 C686,608 627,623 620,630 C613,637 613,674 620,680 C627,686 693,696 700,700 C707,704 708,728 700,730 C692,732 610,733 600,730 C590,727 587,693 580,690 C573,687 526,696 520,690 C514,684 520,628 510,620 C500,612 419,606 400,600 C381,594 300,557 280,550 C260,543 174,528 160,520 C146,512 112,455 115,450Z"/>
<path transform="translate(675,70) scale(0.07180)" d="M220,140 C233,137 306,143 320,150 C334,157 378,208 390,220 C402,232 449,281 460,290 C471,299 513,333 520,330 C527,327 534,258 540,250 C546,242 582,234 590,235 C598,236 640,260 640,265 C640,270 594,290 590,300 C586,310 588,366 590,380 C592,394 618,454 620,470 C622,486 617,557 610,570 C603,583 553,622 540,630 C527,638 456,654 450,660 C444,666 464,695 470,700 C476,705 518,717 520,720 C522,723 507,740 500,740 C493,740 448,726 440,720 C432,714 410,675 400,670 C390,665 328,654 320,660 C312,666 314,733 310,740 C306,747 273,748 270,740 C267,732 276,661 270,650 C264,639 208,621 200,610 C192,599 185,536 180,520 C175,504 144,438 140,420 C136,402 128,319 130,300 C132,281 152,203 160,190 C168,177 207,143 220,140Z"/>
<path transform="translate(675,130) scale(0.07174)" d="M190,175 C192,169 262,154 280,150 C298,146 380,132 400,130 C420,128 500,122 520,125 C540,128 623,161 640,170 C657,179 708,219 720,230 C732,241 788,291 790,300 C792,309 752,338 740,340 C728,342 655,320 640,320 C625,320 568,332 560,340 C552,348 558,404 550,410 C542,416 476,414 470,410 C464,406 486,365 480,360 C474,355 413,347 400,350 C387,353 332,389 320,400 C308,411 258,468 250,480 C242,492 218,540 220,550 C222,560 272,594 270,600 C268,606 212,611 200,620 C188,629 129,705 120,710 C111,715 89,691 90,680 C91,669 123,599 130,580 C137,561 163,471 170,450 C177,429 203,349 210,330 C217,311 252,233 250,220 C248,207 188,181 190,175Z"/>
<path transform="translate(945,145) scale(0.07776)" d="M160,220 C162,218 244,262 260,270 C276,278 332,302 350,310 C368,318 459,369 470,370 C481,371 475,329 480,320 C485,311 524,278 530,260 C536,242 546,121 550,110 C554,99 574,118 575,130 C576,142 559,231 560,250 C561,269 582,342 590,360 C598,378 637,463 650,470 C663,477 734,441 750,440 C766,439 828,452 840,460 C852,468 884,530 890,540 C896,550 913,576 910,580 C907,584 861,584 850,590 C839,596 797,638 780,650 C763,662 669,724 650,730 C631,736 567,728 550,720 C533,712 471,648 450,640 C429,632 328,622 300,620 C272,618 124,614 120,610 C116,606 225,576 250,570 C275,564 413,548 420,540 C427,532 343,482 330,470 C317,458 262,408 260,400 C258,392 302,378 300,370 C298,362 242,312 230,300 C218,288 158,222 160,220Z"/>
<path transform="translate(830,335) scale(0.09573)" d="M440,110 C446,104 475,80 480,80 C485,80 497,103 500,110 C503,117 516,152 520,160 C524,168 547,202 545,205 C543,208 507,202 500,200 C493,198 467,175 460,180 C453,185 425,248 420,260 C415,272 403,316 400,330 C397,344 382,416 380,430 C378,444 373,490 370,500 C367,510 343,532 340,550 C337,568 333,697 330,710 C327,723 308,724 305,710 C302,696 305,556 300,540 C295,524 248,519 240,520 C232,521 213,535 210,550 C207,565 200,686 200,700 C200,714 211,718 210,720 C209,722 192,727 190,720 C188,713 181,636 180,640 C179,644 182,760 180,770 C178,780 158,778 155,765 C152,752 143,629 140,620 C137,611 123,662 120,660 C117,658 100,613 100,600 C100,587 116,514 120,500 C124,486 141,438 150,430 C159,422 218,408 230,400 C242,392 280,342 290,330 C300,318 340,275 350,260 C360,245 402,162 410,150 C418,138 434,116 440,110Z"/>
<path transform="translate(885,380) scale(0.08973)" d="M240,130 C247,125 288,107 300,105 C312,103 369,106 380,110 C391,114 422,141 430,150 C438,159 466,212 480,215 C494,218 583,192 600,190 C617,188 667,189 680,195 C693,201 748,250 760,260 C772,270 827,306 830,320 C833,334 802,412 800,430 C798,448 808,518 810,540 C812,562 827,673 830,690 C833,707 852,735 850,740 C848,745 805,753 800,750 C795,747 793,712 790,700 C787,688 767,613 760,600 C753,587 714,532 710,540 C706,548 711,683 710,700 C709,717 707,737 700,740 C693,743 632,744 630,740 C628,736 666,705 670,690 C674,675 682,576 680,560 C678,544 647,502 640,500 C633,498 607,527 600,530 C593,533 572,539 560,540 C548,541 472,527 460,540 C448,553 423,683 420,700 C417,717 424,736 420,740 C416,744 373,754 370,750 C367,746 380,706 380,690 C380,674 372,559 370,560 C368,561 352,685 350,700 C348,715 345,742 340,745 C335,748 292,745 290,740 C288,735 318,706 320,690 C322,674 312,570 310,550 C308,530 293,467 290,450 C287,433 272,365 270,350 C268,335 266,277 260,270 C254,263 208,268 200,265 C192,262 171,245 170,240 C169,235 186,207 190,200 C194,193 216,166 220,160 C224,154 233,135 240,130Z"/>
<path transform="translate(840,395) scale(0.10772)" d="M400,290 C411,284 445,277 450,280 C455,283 464,320 465,330 C466,340 467,388 465,400 C463,412 445,458 440,470 C435,482 407,531 400,540 C393,549 364,565 360,580 C356,595 350,706 350,720 C350,734 368,743 365,745 C362,747 315,757 310,745 C305,733 312,615 310,600 C308,585 299,563 290,560 C281,557 209,555 200,560 C191,565 181,607 180,620 C179,633 187,708 190,720 C193,732 220,765 220,770 C220,775 196,782 190,775 C184,768 154,692 150,680 C146,668 143,628 140,630 C137,632 112,688 110,700 C108,712 112,764 110,770 C108,776 91,784 90,770 C89,756 98,621 100,600 C102,579 118,534 120,520 C122,506 121,442 125,430 C129,418 160,385 170,380 C180,375 238,372 250,370 C262,368 308,357 320,350 C332,343 389,296 400,290Z"/>
<path transform="translate(900,480) scale(0.07179)" d="M90,150 C94,144 138,114 150,110 C162,106 222,100 230,105 C238,110 246,156 250,170 C254,184 273,259 280,270 C287,281 318,303 330,300 C342,297 404,242 420,230 C436,218 505,156 520,150 C535,144 585,152 600,160 C615,168 685,238 700,250 C715,262 770,298 780,310 C790,322 813,385 815,400 C817,415 803,473 805,490 C807,507 837,579 840,600 C843,621 845,733 840,745 C835,757 785,756 780,745 C775,734 785,627 780,610 C775,593 728,551 720,540 C712,529 692,478 690,480 C688,482 693,550 690,570 C687,590 658,712 650,725 C642,738 592,735 590,725 C588,715 626,621 630,600 C634,579 646,482 640,470 C634,458 574,460 560,460 C546,460 479,457 470,465 C461,473 456,540 455,560 C454,580 464,696 460,710 C456,724 415,735 410,725 C405,715 403,590 400,590 C397,590 377,709 370,720 C363,731 320,738 320,725 C320,712 365,582 370,560 C375,538 386,465 380,455 C374,445 314,441 300,435 C286,429 225,398 215,385 C205,372 189,297 185,280 C181,263 172,193 165,185 C158,177 106,183 100,180 C94,177 86,156 90,150Z"/>
<path transform="translate(840,485) scale(0.09569)" d="M420,230 C432,226 490,247 500,250 C510,253 545,266 545,270 C545,274 506,297 500,300 C494,303 475,302 470,310 C465,318 445,384 440,400 C435,416 415,486 410,500 C405,514 377,555 375,570 C373,585 387,664 385,680 C383,696 356,754 350,760 C344,766 318,765 318,758 C318,751 344,693 345,680 C346,667 333,598 330,600 C327,602 312,687 310,700 C308,713 314,754 312,760 C310,766 282,773 280,768 C278,763 280,715 282,700 C284,685 302,601 300,590 C298,579 267,572 260,570 C253,568 216,561 215,570 C214,579 246,665 250,680 C254,695 260,738 262,745 C264,752 272,768 270,770 C268,772 244,779 240,772 C236,765 226,704 220,690 C214,676 177,604 170,600 C163,596 145,629 140,640 C135,651 113,719 110,730 C107,741 103,768 100,770 C97,772 75,774 75,760 C75,746 96,623 100,600 C104,577 118,496 120,480 C122,464 126,419 130,410 C134,401 158,375 170,370 C182,365 254,356 270,350 C286,344 348,310 360,300 C372,290 408,234 420,230Z"/>
<path transform="translate(815,565) scale(0.07179)" d="M150,270 C159,255 213,205 230,200 C247,195 329,204 350,205 C371,206 465,220 480,215 C495,210 522,145 530,140 C538,135 566,159 580,160 C594,161 688,147 700,150 C712,153 720,191 720,200 C720,209 700,252 700,260 C700,268 723,295 720,300 C717,305 670,313 660,320 C650,327 608,366 600,380 C592,394 565,472 560,490 C555,508 541,579 540,600 C539,621 552,728 550,740 C548,752 515,755 510,745 C505,735 495,635 490,620 C485,605 454,555 450,560 C446,565 442,665 440,680 C438,695 433,735 430,740 C427,745 402,745 400,735 C398,725 402,638 400,620 C398,602 389,527 380,520 C371,513 295,529 290,540 C285,551 318,639 320,650 C322,661 314,672 310,670 C306,668 276,641 270,630 C264,619 248,549 240,540 C232,531 186,512 180,520 C174,528 173,630 170,640 C167,650 144,652 140,640 C136,628 122,522 120,500 C118,478 118,399 120,380 C122,361 141,285 150,270Z"/>
<path transform="translate(785,615) scale(0.07174)" d="M600,160 C608,150 641,176 650,175 C659,174 702,146 710,150 C718,154 733,207 740,220 C747,233 791,301 790,310 C789,319 736,318 730,330 C724,342 724,431 720,450 C716,469 687,544 680,560 C673,576 644,625 640,640 C636,655 638,732 630,740 C622,748 549,748 540,740 C531,732 528,651 520,640 C512,629 453,612 440,610 C427,608 368,612 360,620 C352,628 338,688 340,700 C342,712 380,764 380,770 C380,776 347,776 340,770 C333,764 304,712 300,700 C296,688 298,622 290,620 C282,618 212,678 200,680 C188,682 148,658 140,650 C132,642 98,596 100,590 C102,584 152,592 160,580 C168,568 192,465 200,450 C208,435 245,406 260,400 C275,394 360,382 380,380 C400,378 485,378 500,370 C515,362 552,308 560,290 C568,272 592,170 600,160Z"/>
<path transform="translate(815,665) scale(0.09766)" d="M590,120 C602,112 685,82 700,80 C715,78 762,85 770,90 C778,95 794,131 800,140 C806,149 836,192 840,200 C844,208 853,227 850,230 C847,233 808,240 800,240 C792,240 755,225 750,230 C745,235 739,284 740,300 C741,316 750,408 760,420 C770,432 850,435 860,440 C870,445 883,470 880,480 C877,490 827,553 820,560 C813,567 798,567 800,560 C802,553 842,485 840,480 C838,475 773,492 770,500 C767,508 791,568 800,580 C809,592 867,638 880,650 C893,662 956,712 960,720 C964,728 938,753 930,750 C922,747 874,692 860,680 C846,668 770,620 760,610 C750,600 747,568 740,560 C733,552 695,523 680,520 C665,517 578,520 560,520 C542,520 471,515 460,520 C449,525 427,572 430,580 C433,588 491,612 500,620 C509,628 538,672 540,680 C542,688 525,712 520,710 C515,708 491,669 480,660 C469,651 401,608 390,600 C379,592 352,576 350,570 C348,564 374,534 370,530 C366,526 309,519 300,520 C291,521 266,530 260,540 C254,550 231,625 230,640 C229,655 246,710 250,720 C254,730 282,757 280,760 C278,763 237,765 230,760 C223,755 202,713 200,700 C198,687 208,615 210,600 C212,585 223,530 230,520 C237,510 284,488 290,480 C296,472 308,418 300,420 C292,422 215,488 200,500 C185,512 132,562 120,570 C108,578 59,606 60,600 C61,594 118,515 130,500 C142,485 196,434 200,420 C204,406 178,343 180,330 C182,317 220,264 230,260 C240,256 291,274 300,280 C309,286 325,325 340,330 C355,335 462,341 480,340 C498,339 554,328 560,320 C566,312 550,262 550,250 C550,238 557,191 560,180 C563,169 578,128 590,120Z"/>
<path transform="translate(635,770) scale(0.07180)" d="M410,85 C414,82 444,106 450,110 C456,114 476,131 480,130 C484,129 495,94 500,95 C505,96 535,127 540,140 C545,153 553,238 560,250 C567,262 610,279 620,290 C630,301 675,368 680,380 C685,392 685,422 680,430 C675,438 628,462 620,470 C612,478 594,508 590,520 C586,532 575,598 570,610 C565,622 529,652 530,660 C531,668 576,693 580,700 C584,707 587,737 580,740 C573,743 513,742 500,740 C487,738 431,710 420,710 C409,710 388,738 370,740 C352,742 222,743 200,740 C178,737 110,708 100,700 C90,692 73,650 75,640 C77,630 115,593 120,580 C125,567 125,493 130,480 C135,467 168,429 180,420 C192,411 262,373 280,370 C298,367 387,384 400,380 C413,376 438,332 440,320 C442,308 423,244 420,230 C417,216 401,162 400,150 C399,138 406,88 410,85Z"/>
<path transform="translate(545,790) scale(0.06349)" d="M240,250 C252,231 330,177 350,170 C370,163 459,162 480,165 C501,168 582,201 600,210 C618,219 687,265 700,270 C713,275 750,265 760,270 C770,275 807,320 820,330 C833,340 915,381 920,390 C925,399 892,433 880,440 C868,447 790,462 780,470 C770,478 760,530 760,540 C760,550 782,584 780,590 C778,596 747,612 740,610 C733,608 710,566 700,560 C690,554 635,544 620,540 C605,536 538,513 520,510 C502,507 412,497 400,500 C388,503 368,542 370,550 C372,558 419,585 420,590 C421,595 388,612 380,610 C372,608 338,568 330,560 C322,552 291,527 280,520 C269,513 210,479 200,480 C190,481 162,520 160,530 C158,540 162,592 170,600 C178,608 218,627 250,630 C282,633 550,638 550,640 C550,642 283,660 250,660 C217,660 162,648 150,640 C138,632 112,574 110,560 C108,546 122,483 130,470 C138,457 191,418 200,400 C209,382 228,269 240,250Z"/>
<path transform="translate(415,775) scale(0.09277)" d="M780,80 C785,76 820,105 830,110 C840,115 890,134 900,140 C910,146 953,173 955,180 C957,187 928,214 920,220 C912,226 868,244 860,250 C852,256 830,282 830,290 C830,298 858,334 860,340 C862,346 855,362 850,360 C845,358 812,320 800,320 C788,320 712,352 700,360 C688,368 667,408 660,420 C653,432 623,490 620,500 C617,510 612,536 620,540 C628,544 713,542 720,545 C727,548 712,578 700,580 C688,582 591,577 580,570 C569,563 575,509 570,500 C565,491 530,461 520,460 C510,459 468,483 450,490 C432,497 331,535 300,540 C269,545 98,555 80,555 C62,555 62,543 80,540 C98,537 269,527 300,520 C331,513 432,469 450,460 C468,451 502,422 510,410 C518,398 533,334 540,320 C547,306 578,251 590,240 C602,229 665,197 680,190 C695,183 762,169 770,160 C778,151 775,84 780,80Z"/>
<path transform="translate(220,755) scale(0.12207)" d="M67,174 C64,169 77,146 80,140 C83,134 99,102 104,100 C109,98 133,110 140,110 C147,110 178,108 191,106 C204,104 281,94 300,92 C319,90 394,84 414,85 C434,86 519,95 538,100 C557,105 620,141 637,150 C654,159 718,198 736,205 C754,212 834,231 850,235 C866,239 920,250 930,255 C940,260 968,295 970,300 C972,305 962,321 955,320 C948,319 896,296 880,292 C864,288 778,275 760,272 C742,269 675,257 662,254 C649,251 610,236 600,235 C590,234 550,236 545,240 C540,244 542,281 538,285 C534,289 507,292 500,292 C493,292 454,292 451,288 C448,284 473,255 470,250 C467,245 419,228 414,230 C409,232 417,275 414,280 C411,285 386,290 380,290 C374,290 342,290 340,285 C338,280 358,240 350,235 C342,230 259,226 250,230 C241,234 245,275 241,280 C237,285 206,292 200,292 C194,292 167,289 166,285 C165,281 190,246 190,240 C190,234 176,213 170,210 C164,207 129,203 120,200 C111,197 70,179 67,174Z"/>
<path transform="translate(170,500) scale(0.05858)" d="M140,330 C148,311 228,208 250,190 C272,172 371,127 400,120 C429,113 570,107 600,110 C630,113 737,148 760,160 C783,172 867,242 880,260 C893,278 918,360 920,380 C922,400 907,483 900,500 C893,517 849,572 840,580 C831,588 795,593 790,590 C785,587 796,542 780,540 C764,538 618,551 600,560 C582,569 568,639 560,650 C552,661 517,692 510,690 C503,688 484,630 480,620 C476,610 475,575 460,570 C445,565 325,557 300,560 C275,563 173,608 160,610 C147,612 138,588 140,580 C142,572 178,523 180,510 C182,497 163,435 160,420 C157,405 132,349 140,330Z"/>
<path transform="translate(915.50,60.17) scale(0.08500,0.08696)" d="M100,125 C103,118 132,131 140,130 C148,129 187,113 200,110 C213,107 282,92 300,90 C318,88 398,88 420,90 C442,92 538,113 560,120 C582,127 662,160 680,170 C698,180 766,233 780,240 C794,247 841,245 850,250 C859,255 890,293 890,300 C890,307 852,320 850,330 C848,340 856,407 860,420 C864,433 901,483 900,490 C899,497 862,501 850,500 C838,499 774,484 760,480 C746,476 685,448 680,450 C675,452 697,502 700,510 C703,518 722,542 720,545 C718,548 689,558 680,550 C671,542 618,461 610,450 C602,439 592,414 590,420 C588,426 582,512 580,520 C578,528 563,530 560,520 C557,510 550,413 540,400 C530,387 456,362 440,360 C424,358 363,375 350,375 C337,375 288,358 280,360 C272,362 250,390 250,400 C250,410 276,471 280,480 C284,489 302,508 300,510 C298,512 257,513 250,510 C243,507 221,469 220,470 C219,471 242,516 240,520 C238,524 207,530 200,520 C193,510 167,418 160,400 C153,382 125,315 120,300 C115,285 102,235 100,220 C98,205 97,132 100,125Z"/>
<path transform="translate(687.75,741.77) scale(0.08250,0.08587)" d="M100,125 C103,118 132,131 140,130 C148,129 187,113 200,110 C213,107 282,92 300,90 C318,88 398,88 420,90 C442,92 538,113 560,120 C582,127 662,160 680,170 C698,180 766,233 780,240 C794,247 841,245 850,250 C859,255 890,293 890,300 C890,307 852,320 850,330 C848,340 856,407 860,420 C864,433 901,483 900,490 C899,497 862,501 850,500 C838,499 774,484 760,480 C746,476 685,448 680,450 C675,452 697,502 700,510 C703,518 722,542 720,545 C718,548 689,558 680,550 C671,542 618,461 610,450 C602,439 592,414 590,420 C588,426 582,512 580,520 C578,528 563,530 560,520 C557,510 550,413 540,400 C530,387 456,362 440,360 C424,358 363,375 350,375 C337,375 288,358 280,360 C272,362 250,390 250,400 C250,410 276,471 280,480 C284,489 302,508 300,510 C298,512 257,513 250,510 C243,507 221,469 220,470 C219,471 242,516 240,520 C238,524 207,530 200,520 C193,510 167,418 160,400 C153,382 125,315 120,300 C115,285 102,235 100,220 C98,205 97,132 100,125Z"/>
<path transform="translate(139.43,653.35) scale(0.10166,0.10811)" d="M45,190 C42,185 97,148 110,140 C123,132 186,105 200,100 C214,95 269,84 280,85 C291,86 318,105 330,110 C342,115 406,144 420,150 C434,156 492,191 500,185 C508,179 514,85 520,80 C526,75 562,116 570,120 C578,124 612,127 620,125 C628,123 658,92 660,95 C662,98 652,150 650,160 C648,170 636,203 640,210 C644,217 683,236 700,240 C717,244 825,253 840,260 C855,267 873,310 880,320 C887,330 914,369 920,380 C926,391 953,447 950,450 C947,453 894,424 880,420 C866,416 793,410 780,405 C767,400 735,369 720,365 C705,361 612,352 600,355 C588,358 582,395 570,400 C558,405 475,416 460,415 C445,414 393,390 390,385 C387,380 421,355 420,350 C419,345 388,327 380,320 C372,313 331,276 320,270 C309,264 260,253 250,250 C240,247 208,235 200,230 C192,225 163,198 150,195 C137,192 48,195 45,190Z"/>
<path transform="translate(160.17,100.07) scale(0.10702,0.10740)" d="M221,45 C250,45 262,70 262,95 C262,120 252,142 242,150 L244,165 C282,172 316,178 326,192 C336,208 338,240 340,300 L346,462 C346,482 336,500 320,502 L302,502 L298,700 L296,770 C302,780 322,786 324,796 L324,802 L250,802 L250,782 L256,700 L236,522 L226,522 L206,700 L182,772 L176,802 L104,802 C104,786 120,780 130,776 L136,700 L140,502 L124,502 C112,496 110,480 110,460 L112,300 C113,240 115,206 126,192 C136,178 170,172 200,165 L202,150 C190,145 180,120 180,95 C180,70 192,45 221,45 Z"/>
<path transform="translate(126.21,544.17) scale(0.10372,0.10740)" d="M221,45 C250,45 262,70 262,95 C262,120 252,142 242,150 L244,165 C282,172 316,178 326,192 C336,208 338,240 340,300 L346,462 C346,482 336,500 320,502 L302,502 L298,700 L296,770 C302,780 322,786 324,796 L324,802 L250,802 L250,782 L256,700 L236,522 L226,522 L206,700 L182,772 L176,802 L104,802 C104,786 120,780 130,776 L136,700 L140,502 L124,502 C112,496 110,480 110,460 L112,300 C113,240 115,206 126,192 C136,178 170,172 200,165 L202,150 C190,145 180,120 180,95 C180,70 192,45 221,45 Z"/>
<path transform="translate(757.11,676.57) scale(0.10372,0.10727)" d="M221,45 C250,45 262,70 262,95 C262,120 252,142 242,150 L244,165 C282,172 316,178 326,192 C336,208 338,240 340,300 L346,462 C346,482 336,500 320,502 L302,502 L298,700 L296,770 C302,780 322,786 324,796 L324,802 L250,802 L250,782 L256,700 L236,522 L226,522 L206,700 L182,772 L176,802 L104,802 C104,786 120,780 130,776 L136,700 L140,502 L124,502 C112,496 110,480 110,460 L112,300 C113,240 115,206 126,192 C136,178 170,172 200,165 L202,150 C190,145 180,120 180,95 C180,70 192,45 221,45 Z"/>
<g transform="translate(840,395) scale(0.10772)" fill="none" stroke="#000" stroke-width="24" stroke-linecap="round"><path d="M420,300 C380,200 320,130 260,90"/><path d="M450,290 C440,200 410,130 380,95"/></g>
<g transform="translate(885,380) scale(0.08973)" fill="none" stroke="#000" stroke-width="32" stroke-linecap="round"><path d="M250,125 C200,95 140,110 128,150 C120,180 150,200 178,205"/><path d="M420,140 C460,105 500,100 515,130 C525,160 510,185 490,200"/><path d="M830,322 C870,330 885,370 868,395 C850,405 822,395 812,378" stroke-width="26"/></g>
<g transform="translate(840,485) scale(0.09569)" fill="none" stroke="#000" stroke-width="22" stroke-linecap="round"><path d="M430,240 C340,190 240,200 160,260"/><path d="M220,215 L160,140"/><path d="M275,200 L230,90"/><path d="M335,195 L320,65"/><path d="M400,215 L410,150"/><path d="M440,235 L480,140"/></g>
</g>
<line x1="907" y1="486.1" x2="960" y2="486.1" stroke="#d8d8d8" stroke-width="1"/>
<rect x="13.8" y="14.3" width="34.2" height="57.3" rx="5" fill="none" stroke="#8c8c8c" stroke-width="1.4"/>
<g fill="none" stroke="#9a9a9a" stroke-width="1.5"><path d="M23.5,18.3 H36.8 M30.1,18.3 V34.2"/><path d="M23.8,34.7 L30.6,49 L37.6,34.7"/><path d="M20.9,66.5 V50.1 L30,64.5 L38.6,50.1 V66.5"/></g>
<circle cx="78.1" cy="42.5" r="21.1" fill="none" stroke="#f3d6c8" stroke-width="4.6"/>
<circle cx="78.1" cy="42.5" r="20.6" fill="none" stroke="#c05a55" stroke-width="2.6" stroke-dasharray="1.6 2.4"/>
<circle cx="78.1" cy="42.5" r="22.2" fill="none" stroke="#e3c25a" stroke-width="1.8" stroke-dasharray="1.4 3.6" stroke-dashoffset="1.5"/>
<circle cx="78.1" cy="42.5" r="21.5" fill="none" stroke="#5a3a3a" stroke-width="1.2" stroke-dasharray="1 7" stroke-dashoffset="3"/>
<text x="78.4" y="48.8" text-anchor="middle" font-size="17.5" font-weight="bold" fill="#3a3030" textLength="24" lengthAdjust="spacingAndGlyphs">SFM</text>
</svg></body></html>
